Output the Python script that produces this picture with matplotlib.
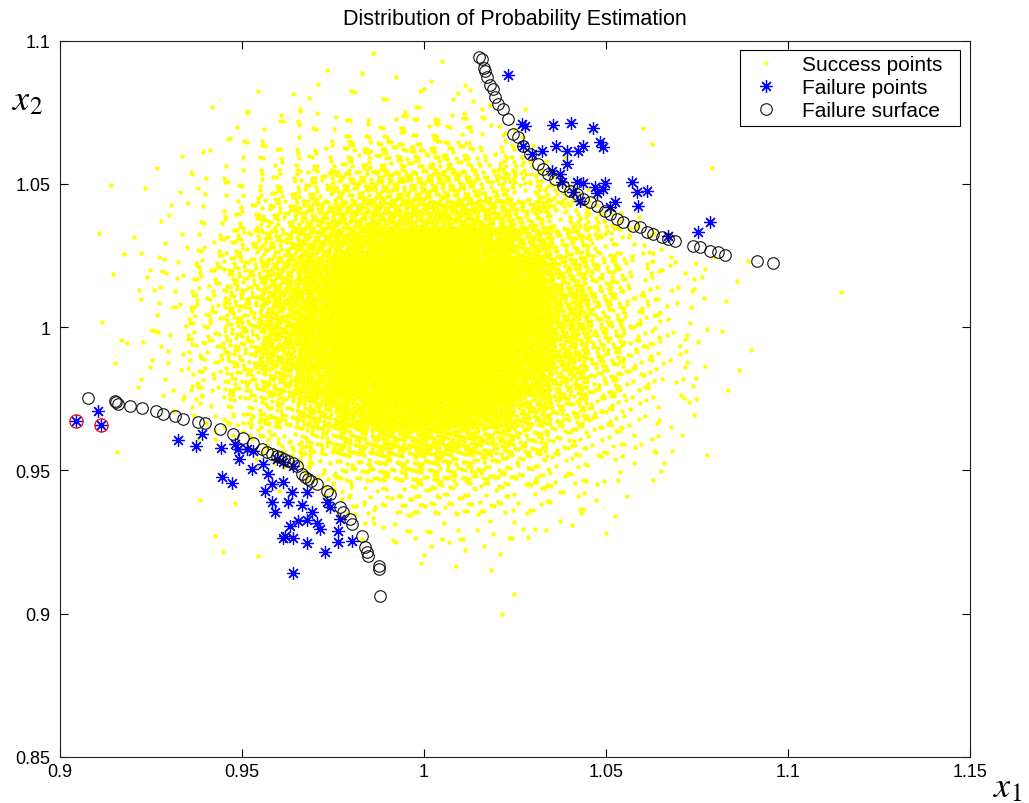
import numpy as np
import matplotlib
matplotlib.use("Agg")
import matplotlib.pyplot as plt

plt.rcParams['font.family'] = ['Liberation Sans', 'DejaVu Sans']
plt.rcParams['mathtext.fontset'] = 'stix'

# ---------------- data ----------------
# Success points: counts per 0.01 x 0.01 cell,
# rows listed from top (y 1.09-1.10) to bottom (y 0.89-0.90), columns x 0.90 ... 1.12
success_x0 = 0.90
success_y0 = 0.89
success_cell = 0.01
success_counts_top_down = [
    [0,0,0,0,0,0,0,0,1,0,1,0,0,0,0,0,0,0,0,0,0,0],
    [0,0,0,0,0,1,1,1,1,2,2,1,0,0,0,0,0,0,0,0,0,0],
    [0,0,0,0,1,1,3,5,6,7,7,6,1,0,0,0,0,0,0,0,0,0],
    [0,0,0,1,2,4,8,13,18,20,20,18,7,0,0,0,2,0,0,0,0,0],
    [0,0,1,2,4,9,18,28,40,47,47,40,28,6,0,0,0,1,0,0,0,0],
    [0,1,1,3,8,19,34,58,78,90,90,78,58,32,10,0,0,0,0,0,0,0],
    [0,1,2,5,14,32,60,98,130,152,152,130,98,60,32,10,1,0,0,0,0,0],
    [0,1,3,8,21,48,90,142,192,222,222,192,142,90,48,21,8,2,1,0,0,0],
    [0,1,3,10,27,62,115,180,242,280,280,242,180,115,62,27,10,3,1,0,0,1],
    [0,1,4,11,30,68,128,198,266,310,310,266,198,128,68,30,11,4,1,0,0,0],
    [0,1,3,10,29,65,122,190,256,296,296,256,190,122,65,29,11,3,1,0,0,0],
    [0,1,3,9,24,56,102,158,214,248,248,214,158,102,56,24,9,3,1,0,0,0],
    [0,0,1,7,18,40,73,115,156,180,180,156,115,73,40,18,7,2,1,0,0,0],
    [0,0,0,1,7,22,46,73,98,114,114,98,73,46,24,11,4,1,0,0,0,0],
    [0,1,0,0,0,5,20,38,54,64,64,54,38,24,12,6,2,1,0,0,0,0],
    [0,0,0,0,0,0,2,12,25,29,29,25,18,11,6,2,1,0,0,0,0,0],
    [0,0,0,1,1,0,0,1,7,11,11,10,7,5,2,1,0,0,0,0,0,0],
    [0,0,0,0,2,1,0,0,1,3,3,3,2,1,1,0,0,0,0,0,0,0],
    [0,0,0,0,0,0,0,0,0,1,1,1,0,0,0,0,0,0,0,0,0,0],
    [0,0,0,0,0,0,0,0,0,0,0,0,1,0,0,0,0,0,0,0,0,0],
    [0,0,0,0,0,0,0,0,0,0,0,0,1,0,0,0,0,0,0,0,0,0],
]

# Failure points (upper-right cluster)
fail_tr_x = [1.0231,1.0269,1.0278,1.0354,1.0404,1.0464,1.0484,1.0492,1.0363,1.0393,
             1.0324,1.0272,1.0296,1.0423,1.0437,1.0393,1.0374,1.0352,1.0379,1.0420,
             1.0437,1.0470,1.0497,1.0475,1.0492,1.0409,1.0429,1.0525,1.0511,1.0571,
             1.0585,1.0613,1.0588,1.0670,1.0753,1.0786]
fail_tr_y = [1.0880,1.0709,1.0702,1.0705,1.0712,1.0695,1.0646,1.0628,1.0632,1.0614,
             1.0614,1.0632,1.0604,1.0614,1.0632,1.0569,1.0534,1.0545,1.0506,1.0506,
             1.0503,1.0489,1.0503,1.0468,1.0482,1.0471,1.0440,1.0437,1.0419,1.0506,
             1.0471,1.0475,1.0423,1.0318,1.0332,1.0367]

# Failure points (lower-left cluster)
fail_bl_x = [0.9104,0.9325,0.9374,0.9389,0.9441,0.9481,0.9490,0.9493,0.9513,0.9527,
             0.9444,0.9472,0.9559,0.9572,0.9595,0.9614,0.9641,0.9582,0.9614,0.9563,
             0.9637,0.9582,0.9625,0.9591,0.9664,0.9692,0.9678,0.9632,0.9655,0.9678,
             0.9705,0.9714,0.9618,0.9641,0.9614,0.9678,0.9728,0.9765,0.9765,0.9801,
             0.9733,0.9742,0.9769,0.9641,0.9531,0.9044,0.9112]
fail_bl_y = [0.9708,0.9606,0.9584,0.9627,0.9577,0.9592,0.9575,0.9540,0.9575,0.9505,
             0.9476,0.9456,0.9522,0.9487,0.9540,0.9528,0.9516,0.9453,0.9459,0.9429,
             0.9424,0.9389,0.9389,0.9356,0.9379,0.9356,0.9424,0.9307,0.9325,0.9328,
             0.9316,0.9296,0.9272,0.9263,0.9263,0.9247,0.9214,0.9290,0.9251,0.9255,
             0.9389,0.9371,0.9330,0.9142,0.9569,0.9673,0.9658]

# Two failure points marked with a red ring
ring_x = [0.9044, 0.9112]
ring_y = [0.9673, 0.9658]

# Failure surface (upper-right branch)
surf_tr_x = [1.0150,1.0158,1.0165,1.0168,1.0172,1.0182,1.0190,1.0195,1.0203,1.0217,
             1.0231,1.0245,1.0258,1.0272,1.0291,1.0313,1.0327,1.0341,1.0360,1.0382,
             1.0401,1.0420,1.0437,1.0456,1.0475,1.0497,1.0511,1.0530,1.0547,1.0574,
             1.0593,1.0613,1.0629,1.0654,1.0670,1.0690,1.0739,1.0758,1.0786,1.0808,
             1.0827,1.0915,1.0959]
surf_tr_y = [1.0942,1.0935,1.0905,1.0895,1.0873,1.0845,1.0831,1.0803,1.0778,1.0761,
             1.0726,1.0674,1.0663,1.0632,1.0604,1.0569,1.0552,1.0534,1.0517,1.0492,
             1.0475,1.0464,1.0447,1.0437,1.0423,1.0405,1.0395,1.0377,1.0367,1.0353,
             1.0349,1.0332,1.0325,1.0314,1.0307,1.0300,1.0283,1.0280,1.0265,1.0262,
             1.0252,1.0231,1.0224]

# Failure surface (lower-left branch)
surf_bl_x = [0.9078,0.9151,0.9155,0.9160,0.9192,0.9224,0.9264,0.9284,0.9316,0.9339,
             0.9380,0.9398,0.9440,0.9475,0.9504,0.9531,0.9554,0.9570,0.9582,0.9595,
             0.9604,0.9615,0.9627,0.9640,0.9650,0.9664,0.9672,0.9682,0.9690,0.9705,
             0.9733,0.9742,0.9769,0.9778,0.9797,0.9801,0.9829,0.9838,0.9843,0.9847,
             0.9875,0.9875,0.9879]
surf_bl_y = [0.9752,0.9743,0.9737,0.9732,0.9724,0.9717,0.9708,0.9697,0.9691,0.9679,
             0.9670,0.9664,0.9645,0.9627,0.9612,0.9596,0.9575,0.9565,0.9557,0.9550,
             0.9546,0.9540,0.9534,0.9525,0.9516,0.9487,0.9478,0.9470,0.9462,0.9453,
             0.9429,0.9418,0.9371,0.9354,0.9330,0.9313,0.9272,0.9232,0.9214,0.9203,
             0.9168,0.9156,0.9061]

x_ticks = [0.9, 0.95, 1.0, 1.05, 1.1, 1.15]
x_tick_labels = ["0.9", "0.95", "1", "1.05", "1.1", "1.15"]
y_ticks = [0.85, 0.9, 0.95, 1.0, 1.05, 1.1]
y_tick_labels = ["0.85", "0.9", "0.95", "1", "1.05", "1.1"]

# ------------- lay out success points inside their cells -------------
counts = np.array(success_counts_top_down[::-1])
nr, nc = counts.shape
G1, G2 = 0.7548776662466927, 0.5698402909980532   # R2 plastic-number steps
sx, sy = [], []
for r in range(nr):
    for c in range(nc):
        n = int(counts[r, c])
        if n == 0:
            continue
        # cells fully surrounded by occupied cells are laid over a 2-cell
        # window (neighbouring windows overlap evenly, so no cell borders show)
        r0, r1 = max(r - 1, 0), min(r + 2, nr)
        c0, c1 = max(c - 1, 0), min(c + 2, nc)
        spread = 2.0 if counts[r0:r1, c0:c1].min() > 0 and n > 3 else 1.0
        start = 37 * r + 101 * c
        k = np.arange(start + 1, start + n + 1)
        a = (r * 0.3819660 + c * 0.7071068) % 1.0
        b = (r * 0.6180340 + c * 0.3141593) % 1.0
        u = (a + k * G1) % 1.0
        v = (b + k * G2) % 1.0
        sx.append(success_x0 + (c + 0.5 + (u - 0.5) * spread) * success_cell)
        sy.append(success_y0 + (r + 0.5 + (v - 0.5) * spread) * success_cell)
sx = np.concatenate(sx)
sy = np.concatenate(sy)

# ---------------- figure ----------------
W, H = 1029, 804
fig = plt.figure(figsize=(W / 100, H / 100), dpi=100)
ax = fig.add_axes([60 / W, 1 - 758 / H, 910 / W, 716.5 / H])

h_succ, = ax.plot(sx, sy, linestyle='none', marker='o', markersize=3.2,
                  markerfacecolor=(1, 1, 0), markeredgewidth=0, color=(1, 1, 0),
                  zorder=1)
fx = fail_tr_x + fail_bl_x
fy = fail_tr_y + fail_bl_y
h_fail, = ax.plot(fx, fy, linestyle='none', marker=(8, 2, 0), markersize=9,
                  markeredgewidth=0.9, color=(0, 0, 1), zorder=2)
ax.plot(ring_x, ring_y, linestyle='none', marker='o', markersize=9.5,
        markerfacecolor='none', markeredgecolor=(0.9, 0, 0), markeredgewidth=0.9,
        zorder=3)
h_surf, = ax.plot(surf_tr_x + surf_bl_x, surf_tr_y + surf_bl_y, linestyle='none',
                  marker='o', markersize=8.3, markerfacecolor='none',
                  markeredgecolor='#111111', markeredgewidth=0.8, zorder=4)

ax.set_xlim(0.9, 1.15)
ax.set_ylim(0.85, 1.1)
ax.set_xticks(x_ticks)
ax.set_xticklabels(x_tick_labels)
ax.set_yticks(y_ticks)
ax.set_yticklabels(y_tick_labels)
ax.tick_params(direction='in', top=True, right=True, length=6, width=0.8,
               labelsize=13, colors='black')
ax.tick_params(axis='x', pad=4)
ax.tick_params(axis='y', pad=7)
for sp in ax.spines.values():
    sp.set_linewidth(0.8)
    sp.set_color('#222222')

ax.set_title("Distribution of Probability Estimation", fontsize=15.5, pad=12)

leg = ax.legend([h_succ, h_fail, h_surf],
                ["Success points", "Failure points", "Failure surface"],
                loc='upper left', bbox_to_anchor=(0.747, 0.878, 0.242, 0.109),
                mode='expand', borderaxespad=0,
                fontsize=15, labelspacing=0.2, borderpad=0.25,
                handlelength=2.0, handletextpad=0.75, fancybox=False,
                framealpha=1, edgecolor='black', markerscale=1.0)
leg.get_frame().set_linewidth(0.8)
leg.legend_handles[0].set_markersize(3)

fig.text(993 / W, 1 - 797 / H, r"$\mathit{x}_{\mathit{1}}$", fontsize=26,
         ha='left', va='baseline')
fig.text(12 / W, 1 - 110 / H, r"$\mathit{x}_{\mathit{2}}$", fontsize=26,
         ha='left', va='baseline')

fig.savefig("out.png", dpi=100)
